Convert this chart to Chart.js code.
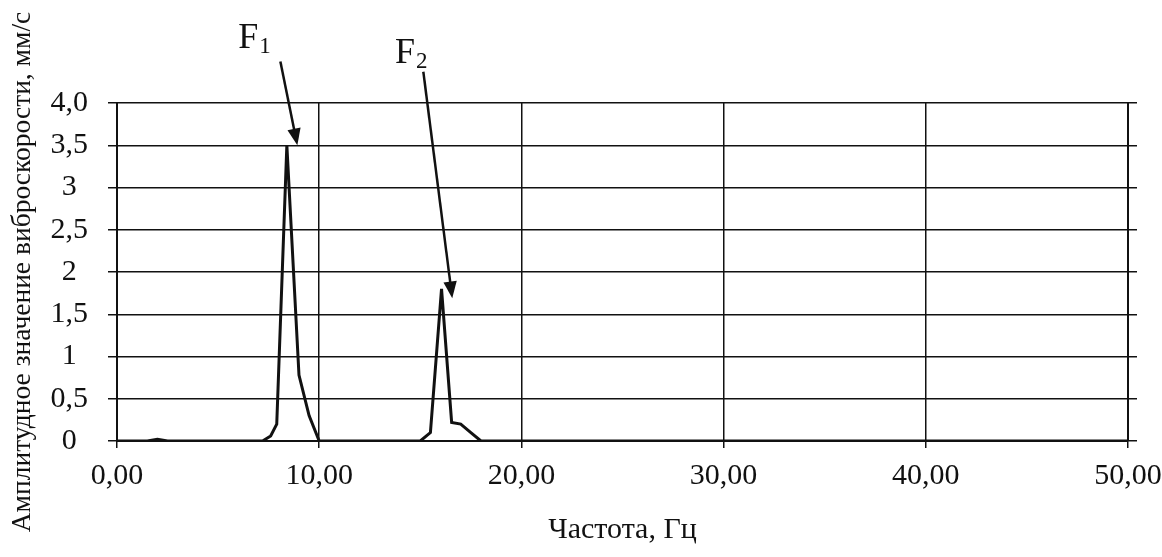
<!DOCTYPE html>
<html lang="ru">
<head>
  <meta charset="UTF-8" />
  <title>Спектр виброскорости</title>
  <script src="https://cdn.jsdelivr.net/npm/chart.js"></script>
  <style>
    html, body {
      margin: 0;
      padding: 0;
      background: #fff;
    }
    #wrap {
      width: 1162px;
      height: 557px;
    }
  </style>
</head>
<body>
  <div id="wrap"><canvas id="spectrum" width="1162" height="557"></canvas></div>

  <script>
    // Data
    const freq = [0, 1.5, 2.0, 2.5, 7.2, 7.6, 7.9, 8.4, 9.0, 9.5, 10.0, 15.0, 15.5, 16.05, 16.55, 17.0, 17.5, 18.0, 50];
    const amp  = [0, 0, 0.02, 0, 0, 0.06, 0.2, 3.5, 0.78, 0.3, 0, 0, 0.1, 1.8, 0.22, 0.2, 0.1, 0, 0];
    const yTickLabels = ['0', '0,5', '1', '1,5', '2', '2,5', '3', '3,5', '4,0'];
    const xTickLabels = ['0,00', '10,00', '20,00', '30,00', '40,00', '50,00'];

    // Peak annotations (data coordinates)
    const peakNames = ['1', '2'];
    const labelPos  = [[6.0, 4.65], [13.75, 4.47]];
    const arrowFrom = [[8.08, 4.49], [15.15, 4.37]];
    const arrowTo   = [[8.92, 3.50], [16.58, 1.69]];

    const serif = "'Liberation Serif', 'Times New Roman', serif";
    const ink = '#111';

    const points = freq.map((f, i) => ({ x: f, y: amp[i] }));

    const peakLabels = {
      id: 'peakLabels',
      afterDatasetsDraw(chart) {
        const { ctx, scales: { x, y } } = chart;
        ctx.save();
        ctx.fillStyle = ink;
        ctx.strokeStyle = ink;
        peakNames.forEach((n, i) => {
          const lx = x.getPixelForValue(labelPos[i][0]);
          const ly = y.getPixelForValue(labelPos[i][1]);
          ctx.font = '36px ' + serif;
          ctx.textBaseline = 'alphabetic';
          ctx.fillText('F', lx, ly);
          const w = ctx.measureText('F').width;
          ctx.font = '23px ' + serif;
          ctx.fillText(n, lx + w + 1, ly + 5);

          const x0 = x.getPixelForValue(arrowFrom[i][0]);
          const y0 = y.getPixelForValue(arrowFrom[i][1]);
          const x1 = x.getPixelForValue(arrowTo[i][0]);
          const y1 = y.getPixelForValue(arrowTo[i][1]);
          const a = Math.atan2(y1 - y0, x1 - x0);
          const head = 18, half = 0.38;
          ctx.lineWidth = 2.5;
          ctx.beginPath();
          ctx.moveTo(x0, y0);
          ctx.lineTo(x1 - Math.cos(a) * head * 0.8, y1 - Math.sin(a) * head * 0.8);
          ctx.stroke();
          ctx.beginPath();
          ctx.moveTo(x1, y1);
          ctx.lineTo(x1 - head * Math.cos(a - half), y1 - head * Math.sin(a - half));
          ctx.lineTo(x1 - head * Math.cos(a + half), y1 - head * Math.sin(a + half));
          ctx.closePath();
          ctx.fill();
        });
        ctx.restore();
      }
    };

    new Chart(document.getElementById('spectrum'), {
      type: 'line',
      data: {
        datasets: [{
          data: points,
          borderColor: ink,
          borderWidth: 3,
          pointRadius: 0,
          tension: 0,
          fill: false
        }]
      },
      options: {
        responsive: false,
        animation: false,
        layout: { padding: { top: 103, right: 0, left: 0, bottom: 0 } },
        plugins: {
          legend: { display: false },
          tooltip: { enabled: false }
        },
        scales: {
          x: {
            type: 'linear',
            min: 0,
            max: 50,
            border: { display: true, color: ink, width: 2 },
            grid: { color: ink, lineWidth: 1.5, tickLength: 7 },
            ticks: {
              stepSize: 10,
              color: ink,
              padding: 10,
              maxRotation: 0,
              font: { family: serif, size: 30 },
              callback: (v) => xTickLabels[Math.round(v / 10)]
            },
            title: {
              display: true,
              text: 'Частота, Гц',
              color: ink,
              font: { family: serif, size: 30 },
              padding: { top: 4, bottom: 9 }
            },
            afterFit(s) {
              s.height = 116;
              s.paddingLeft = 0;
              s.paddingRight = 0;
            }
          },
          y: {
            min: 0,
            max: 4,
            border: { display: true, color: ink, width: 2 },
            grid: { color: ink, lineWidth: 1.5, tickLength: 9 },
            ticks: {
              stepSize: 0.5,
              color: ink,
              padding: 20,
              crossAlign: 'center',
              font: { family: serif, size: 30 },
              callback: (v) => yTickLabels[Math.round(v * 2)]
            },
            title: {
              display: true,
              text: 'Амплитудное значение виброскорости, мм/с',
              color: ink,
              font: { family: serif, size: 27.5 },
              padding: { top: 6, bottom: 0 }
            },
            afterFit(s) { s.width = 117; }
          },
          y2: {
            position: 'right',
            min: 0,
            max: 4,
            border: { display: true, color: ink, width: 2 },
            grid: { drawOnChartArea: false, color: ink, lineWidth: 1.5, tickLength: 9 },
            ticks: { stepSize: 0.5, display: false },
            afterFit(s) { s.width = 34; }
          }
        }
      },
      plugins: [peakLabels]
    });
  </script>
</body>
</html>
